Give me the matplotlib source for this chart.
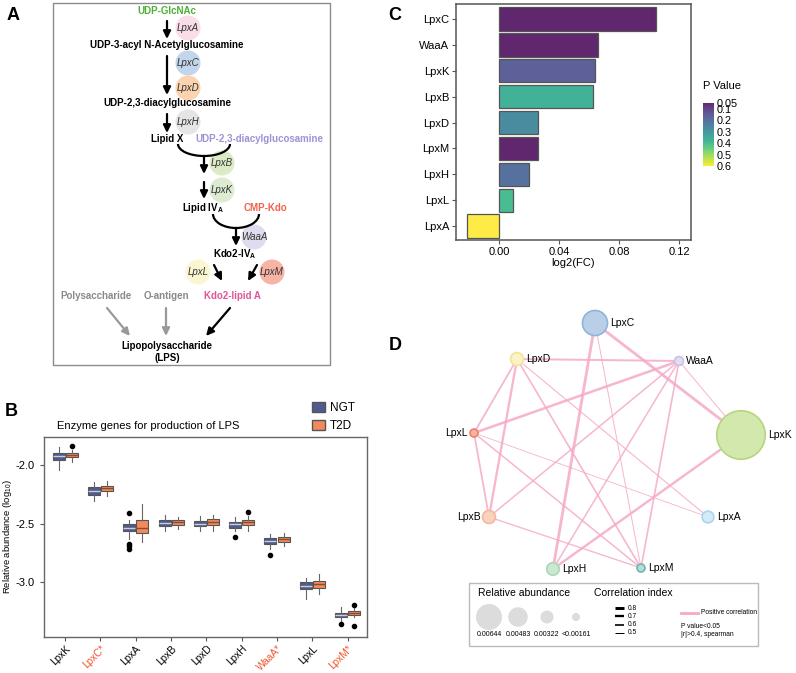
import numpy as np
import matplotlib.pyplot as plt
from matplotlib.patches import Patch, Circle, Arc, Rectangle
from matplotlib.colors import ListedColormap, Normalize
from matplotlib.cm import ScalarMappable

plt.rcParams['font.family'] = ['Liberation Sans', 'DejaVu Sans']
plt.rcParams['mathtext.fontset'] = 'custom'
plt.rcParams['mathtext.rm'] = 'Liberation Sans'
plt.rcParams['mathtext.bf'] = 'Liberation Sans:bold'
plt.rcParams['mathtext.it'] = 'Liberation Sans:italic'

W, H = 796, 673

# ============================================
# DATA
# ============================================
# Panel B: boxplots (log10 relative abundance)
genes_b = ['LpxK', 'LpxC*', 'LpxA', 'LpxB', 'LpxD', 'LpxH', 'WaaA*', 'LpxL', 'LpxM*']
signif_b = [False, True, False, False, False, False, True, False, True]

ngt_med = [-1.924, -2.219, -2.534, -2.492, -2.500, -2.506, -2.649, -3.031, -3.281]
ngt_q1 = [-1.958, -2.253, -2.562, -2.520, -2.525, -2.534, -2.674, -3.062, -3.300]
ngt_q3 = [-1.896, -2.188, -2.506, -2.472, -2.478, -2.483, -2.626, -3.003, -3.264]
ngt_lo = [-2.042, -2.303, -2.632, -2.567, -2.562, -2.562, -2.716, -3.143, -3.334]
ngt_hi = [-1.845, -2.146, -2.469, -2.430, -2.435, -2.441, -2.590, -2.963, -3.216]
ngt_out = [[], [], [-2.407, -2.674, -2.694, -2.716], [], [], [-2.612], [-2.767], [], [-3.362]]

t2d_med = [-1.916, -2.197, -2.539, -2.486, -2.483, -2.486, -2.635, -3.020, -3.264]
t2d_q1 = [-1.935, -2.225, -2.581, -2.511, -2.511, -2.514, -2.654, -3.053, -3.284]
t2d_q3 = [-1.893, -2.177, -2.469, -2.472, -2.463, -2.469, -2.618, -2.992, -3.244]
t2d_lo = [-1.972, -2.267, -2.660, -2.548, -2.562, -2.562, -2.694, -3.104, -3.300]
t2d_hi = [-1.874, -2.140, -2.329, -2.441, -2.430, -2.435, -2.581, -2.935, -3.222]
t2d_out = [[-1.840], [], [], [], [], [-2.399], [], [], [-3.194, -3.376]]

# Panel C: fold change bars
genes_c = ['LpxC', 'WaaA', 'LpxK', 'LpxB', 'LpxD', 'LpxM', 'LpxH', 'LpxL', 'LpxA']
log2fc = [0.1044, 0.0658, 0.0636, 0.0622, 0.0260, 0.0260, 0.0196, 0.0091, -0.0218]
pvals = [0.05, 0.05, 0.16, 0.37, 0.27, 0.05, 0.20, 0.40, 0.60]
p_ticks = [0.05, 0.1, 0.2, 0.3, 0.4, 0.5, 0.6]

# Panel D: correlation network
net_genes = ['LpxC', 'LpxD', 'WaaA', 'LpxL', 'LpxK', 'LpxB', 'LpxA', 'LpxH', 'LpxM']
net_abund = [0.0062, 0.0032, 0.0022, 0.00093, 0.0120, 0.0032, 0.0029, 0.0031, 0.00052]
net_edges = [('LpxC', 'LpxK', 0.78), ('LpxC', 'LpxH', 0.78), ('LpxC', 'LpxM', 0.50),
             ('LpxD', 'WaaA', 0.65), ('LpxD', 'LpxL', 0.62), ('LpxD', 'LpxB', 0.70),
             ('LpxD', 'LpxM', 0.60), ('LpxD', 'LpxA', 0.52),
             ('WaaA', 'LpxL', 0.74), ('WaaA', 'LpxB', 0.58), ('WaaA', 'LpxH', 0.58),
             ('WaaA', 'LpxM', 0.60), ('WaaA', 'LpxK', 0.50),
             ('LpxL', 'LpxB', 0.62), ('LpxL', 'LpxA', 0.48), ('LpxL', 'LpxM', 0.58),
             ('LpxK', 'LpxH', 0.72), ('LpxB', 'LpxM', 0.55)]
size_legend_vals = [0.00644, 0.00483, 0.00322, 0.00161]
size_legend_labels = ['0.00644', '0.00483', '0.00322', '<0.00161']
corr_legend_vals = [0.8, 0.7, 0.6, 0.5]

# ============================================
# LAYOUT HELPERS
# ============================================
def px_rect(l, t, r, b):
    return [l / W, 1 - b / H, (r - l) / W, (b - t) / H]

fig = plt.figure(figsize=(W / 100, H / 100), dpi=100)
canvas = fig.add_axes([0, 0, 1, 1])
canvas.set_xlim(0, W)
canvas.set_ylim(H, 0)
canvas.axis('off')

# panel letters
for letter, (lx, ly) in zip('ABCD', [(13, 16), (11, 412), (395, 15), (395, 346)]):
    canvas.text(lx, ly, letter, fontsize=13, fontweight='bold', ha='center', va='center')

# ============================================
# PANEL A: pathway diagram
# ============================================
canvas.add_patch(Rectangle((53, 3), 277, 362, fill=False, edgecolor='#8c8c8c', lw=1))

def arrow(x0, y0, x1, y1, color='black'):
    canvas.annotate('', xy=(x1, y1), xytext=(x0, y0),
                    arrowprops=dict(arrowstyle='-|>,head_length=0.45,head_width=0.22',
                                    color=color, lw=1.6, shrinkA=0, shrinkB=0))

pathway_text = [
    ('UDP-GlcNAc', 167, 11, '#4cb034', 'center'),
    ('UDP-3-acyl N-Acetylglucosamine', 167, 45, 'black', 'center'),
    ('UDP-2,3-diacylglucosamine', 167, 103, 'black', 'center'),
    ('Lipid X', 167, 139, 'black', 'center'),
    ('UDP-2,3-diacylglucosamine', 195, 139, '#9d93d6', 'left'),
    (r'Lipid IV$_{\mathbf{A}}$', 203, 208, 'black', 'center'),
    ('CMP-Kdo', 265, 208, '#f0624e', 'center'),
    (r'Kdo2-IV$_{\mathbf{A}}$', 235, 254, 'black', 'center'),
    ('Polysaccharide', 96, 296, '#8a8a8a', 'center'),
    ('O-antigen', 166, 296, '#8a8a8a', 'center'),
    ('Kdo2-lipid A', 232, 296, '#e0559a', 'center'),
    ('Lipopolysaccharide', 167, 346, 'black', 'center'),
    ('(LPS)', 167, 358, 'black', 'center'),
]
for txt, tx, ty, col, ha in pathway_text:
    canvas.text(tx, ty, txt, fontsize=7, fontweight='bold', color=col, ha=ha, va='center')

enzymes_a = [('LpxA', 188, 28, '#f9dde8'), ('LpxC', 188, 63, '#c3d5ea'),
             ('LpxD', 188, 88, '#fbd3ae'), ('LpxH', 188, 122, '#e5e5e5'),
             ('LpxB', 222, 163, '#dcebc6'), ('LpxK', 222, 190, '#dcebd2'),
             ('WaaA', 254, 237, '#dedcee'), ('LpxL', 198, 272, '#fbf5d2'),
             ('LpxM', 272, 272, '#f7b4a5')]
for name, cx, cy, col in enzymes_a:
    canvas.add_patch(Circle((cx, cy), 12.5, facecolor=col, edgecolor='none', zorder=1))
    canvas.text(cx, cy, name, fontsize=7, style='italic', color='#333333',
                ha='center', va='center', zorder=2)

arrow(167, 21, 167, 39)
arrow(167, 56, 167, 95)
arrow(167, 114, 167, 133)
canvas.add_patch(Arc((204, 144), 52, 24, theta1=0, theta2=180, color='black', lw=1.6))
arrow(204, 156, 204, 174)
arrow(204, 182, 204, 199)
canvas.add_patch(Arc((236, 214), 46, 28, theta1=0, theta2=180, color='black', lw=1.6))
arrow(236, 228, 236, 246)
arrow(214, 265, 222, 281)
arrow(257, 265, 248, 281)
arrow(107, 308, 130, 336, color='#999999')
arrow(166, 308, 166, 336, color='#999999')
arrow(230, 308, 206, 336)

# ============================================
# PANEL B: boxplots
# ============================================
ax_b = fig.add_axes(px_rect(44, 437, 367, 637))
ngt_col, t2d_col = '#4f5b8c', '#f28a5c'
x = np.arange(len(genes_b))

def make_stats(med, q1, q3, lo, hi, out):
    return [dict(med=m, q1=a, q3=b, whislo=l, whishi=h, fliers=f)
            for m, a, b, l, h, f in zip(med, q1, q3, lo, hi, out)]

for stats, offs, col, medc in [
        (make_stats(ngt_med, ngt_q1, ngt_q3, ngt_lo, ngt_hi, ngt_out), -0.185, ngt_col, '#c9cde0'),
        (make_stats(t2d_med, t2d_q1, t2d_q3, t2d_lo, t2d_hi, t2d_out), 0.185, t2d_col, '#8a4b2e')]:
    ax_b.bxp(stats, positions=x + offs, widths=0.34, patch_artist=True, showcaps=False,
             boxprops=dict(facecolor=col, edgecolor='#555555', lw=0.8),
             medianprops=dict(color=medc, lw=1),
             whiskerprops=dict(color='#666666', lw=0.8),
             flierprops=dict(marker='o', markersize=3, markerfacecolor='black',
                             markeredgecolor='black'))

ax_b.set_xlim(-0.6, 8.55)
ax_b.set_ylim(-3.47, -1.76)
ax_b.set_yticks([-2.0, -2.5, -3.0])
ax_b.set_yticklabels(['-2.0', '-2.5', '-3.0'])
ax_b.set_xticks(x)
ax_b.set_xticklabels(genes_b, rotation=45, ha='right', rotation_mode='anchor')
for lab, sig in zip(ax_b.get_xticklabels(), signif_b):
    lab.set_color('#f0552f' if sig else 'black')
ax_b.tick_params(axis='y', labelsize=8, length=3, color='#555555')
ax_b.tick_params(axis='x', labelsize=7.3, length=3, color='#555555', pad=1.5)
for s in ax_b.spines.values():
    s.set_color('#666666')
    s.set_linewidth(1)
ax_b.set_ylabel(r'Relative abundance (log$_{\mathregular{10}}$)', fontsize=6.8)
ax_b.yaxis.set_label_coords(-0.094, 0.5)
canvas.text(57, 426, 'Enzyme genes for production of LPS', fontsize=8, ha='left', va='center')
fig.legend(handles=[Patch(facecolor=ngt_col, edgecolor='#555555', label='NGT'),
                    Patch(facecolor=t2d_col, edgecolor='#555555', label='T2D')],
           loc='upper left', bbox_to_anchor=(306 / W, 1 - 396 / H), frameon=False,
           fontsize=8.5, handlelength=1.1, handleheight=0.9, handletextpad=0.4,
           labelspacing=0.5, borderpad=0)

# ============================================
# PANEL C: fold change bars
# ============================================
ax_c = fig.add_axes(px_rect(456, 4, 691, 240))
base = plt.get_cmap('viridis')(np.linspace(0, 1, 256))[:, :3]
soft_viridis = ListedColormap(base * 0.85 + 0.15)
norm = Normalize(vmin=0.05, vmax=0.6)
yc = np.arange(len(genes_c))
ax_c.barh(yc, log2fc, height=0.9, color=soft_viridis(norm(np.array(pvals))),
          edgecolor='#555555', lw=0.9)
ax_c.set_ylim(8.54, -0.58)
ax_c.set_xlim(-0.0289, 0.1278)
ax_c.set_yticks(yc)
ax_c.set_yticklabels(genes_c)
ax_c.set_xticks([0.0, 0.04, 0.08, 0.12])
ax_c.set_xticklabels(['0.00', '0.04', '0.08', '0.12'])
ax_c.tick_params(labelsize=8, length=3, color='#555555', pad=2)
for s in ax_c.spines.values():
    s.set_color('#555555')
    s.set_linewidth(1.1)
ax_c.set_xlabel('log2(FC)', fontsize=8, labelpad=1)

cax = fig.add_axes(px_rect(703, 103, 714, 166))
cb = fig.colorbar(ScalarMappable(norm=norm, cmap=soft_viridis), cax=cax, ticks=p_ticks)
cb.ax.set_yticklabels([str(t) for t in p_ticks])
cax.invert_yaxis()
cb.outline.set_visible(False)
cax.tick_params(length=0, labelsize=7.8, pad=2)
canvas.text(703, 86, 'P Value', fontsize=8, ha='left', va='center')

# ============================================
# PANEL D: correlation network
# ============================================
node_xy = [(595, 323), (517, 359), (679, 361), (474, 433), (741, 435),
           (489, 517), (708, 517), (553, 569), (641, 568)]
node_face = ['#b9cfe8', '#fcf3c4', '#e0def0', '#f8b3a3', '#d3e8ad',
             '#fad2c0', '#d3ebf5', '#cde8d2', '#b5dcd8']
node_edge = ['#93b4d8', '#f3e49a', '#c7c3e2', '#ee7f6a', '#b5d67f',
             '#f5b79c', '#a9d6ea', '#a9d8b2', '#6fb7b0']
label_left = {'LpxL', 'LpxB'}
pos = dict(zip(net_genes, node_xy))

def node_radius(v):
    return max(v * 2020, 4)

def corr_width(r):
    return (1 + (r - 0.5) * 6.5) * 0.72

for a, b, r in net_edges:
    (x0, y0), (x1, y1) = pos[a], pos[b]
    canvas.plot([x0, x1], [y0, y1], color='#f6a9c8', lw=corr_width(r), alpha=0.85,
                solid_capstyle='butt', zorder=2)

for g, (nx, ny), ab, fc, ec in zip(net_genes, node_xy, net_abund, node_face, node_edge):
    rad = node_radius(ab)
    canvas.add_patch(Circle((nx, ny), rad, facecolor=fc, edgecolor=ec, lw=1.2, zorder=3))
    if g in label_left:
        canvas.text(nx - rad - 2, ny, g, fontsize=7.5, ha='right', va='center', zorder=4)
    else:
        canvas.text(nx + rad + 3, ny, g, fontsize=7.5, ha='left', va='center', zorder=4)

# legend box
canvas.add_patch(Rectangle((469, 583), 289, 63, facecolor='white', edgecolor='#bbbbbb', lw=1))
canvas.text(478, 593, 'Relative abundance', fontsize=7.5, ha='left', va='center')
canvas.text(594, 593, 'Correlation index', fontsize=7.5, ha='left', va='center')
for v, lab, cx in zip(size_legend_vals, size_legend_labels, [489, 518, 547, 576]):
    canvas.add_patch(Circle((cx, 617), node_radius(v), facecolor='#dcdcdc', edgecolor='none'))
    canvas.text(cx, 635, lab, fontsize=5, ha='center', va='center')
for r, ly in zip(corr_legend_vals, [608, 616, 625, 633]):
    canvas.plot([615, 624], [ly, ly], color='black', lw=corr_width(r), solid_capstyle='butt')
    canvas.text(628, ly, str(r), fontsize=4.8, ha='left', va='center')
canvas.plot([681, 698], [613, 613], color='#f6a9c8', lw=2)
canvas.text(701, 613, 'Positive correlation', fontsize=4.8, ha='left', va='center')
canvas.text(681, 627, 'P value<0.05', fontsize=4.8, ha='left', va='center')
canvas.text(681, 634.5, '|r|>0.4, spearman', fontsize=4.8, ha='left', va='center')

plt.savefig('out.png', dpi=100)
